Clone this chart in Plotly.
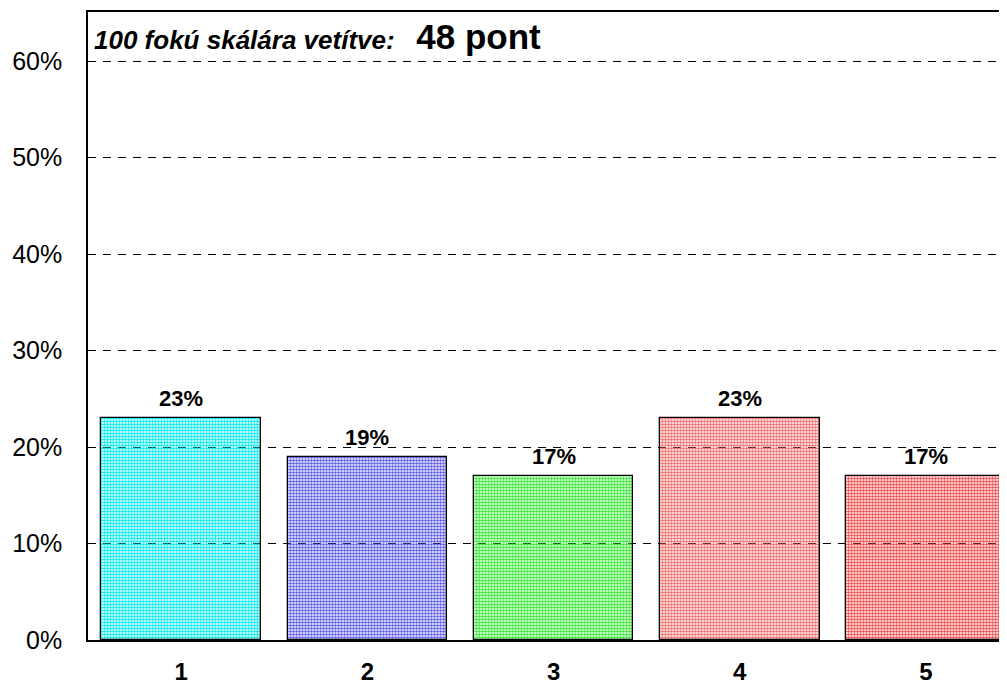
import plotly.graph_objects as go

categories = ["1", "2", "3", "4", "5"]
values = [23, 19, 17, 23, 17]
labels = ["23%", "19%", "17%", "23%", "17%"]
fg_colors = ["#00e8f0", "#5a5ae8", "#30e830", "#f06a6a", "#f04848"]
bg_colors = ["#c8ffff", "#ffffff", "#c8ffc8", "#ffffff", "#ffd0d0"]
y_ticks = [0, 10, 20, 30, 40, 50, 60]
y_tick_labels = ["0%", "10%", "20%", "30%", "40%", "50%", "60%"]

x_pos = [1, 2, 3, 4, 5]

fig = go.Figure()
fig.add_trace(go.Bar(
    x=x_pos, y=values, width=0.857,
    marker=dict(
        color=fg_colors,
        line=dict(color="#000000", width=1.3),
        pattern=dict(shape=".", fgcolor=fg_colors, bgcolor=bg_colors, size=3, solidity=0.6, fillmode="replace"),
    ),
    hoverinfo="skip",
))

annotations = [
    dict(x=x, y=v, xref="x", yref="y", text="<b>" + t + "</b>", showarrow=False,
         xanchor="center", yanchor="bottom", yshift=5,
         font=dict(size=22, color="#000000", family="Liberation Sans, Arial"))
    for x, v, t in zip(x_pos, values, labels)
]
annotations.append(
    dict(xref="paper", yref="paper", x=0.0, y=1.0, xanchor="left", yanchor="top",
         xshift=4, yshift=-3, showarrow=False,
         text="<b><i>100 fokú skálára vetítve:</i></b>   <b><span style='font-size:35px'>48 pont</span></b>",
         font=dict(size=26, color="#000000", family="Liberation Sans, Arial"))
)

fig.update_layout(
    width=999, height=677,
    margin=dict(l=80, r=0, t=4, b=38),
    paper_bgcolor="white", plot_bgcolor="white",
    showlegend=False,
    bargap=0,
    font=dict(family="Liberation Sans, Arial", color="#000000"),
    xaxis=dict(
        range=[0.5, 5.435], tickvals=x_pos, ticktext=categories,
        tickfont=dict(size=24, weight="bold"), showgrid=False,
        showline=True, linecolor="#000000", linewidth=1.5, mirror=True,
        ticks="", zeroline=False, ticklabelstandoff=9,
    ),
    yaxis=dict(
        range=[0, 65.1], tickvals=y_ticks, ticktext=y_tick_labels,
        tickfont=dict(size=25), showgrid=True, gridcolor="#000000",
        griddash="8px,7px", gridwidth=1, showline=True, linecolor="#000000",
        linewidth=1.5, mirror=False, ticks="", zeroline=False, ticklabelstandoff=19,
    ),
    annotations=annotations,
)

fig.write_html("out.html")
